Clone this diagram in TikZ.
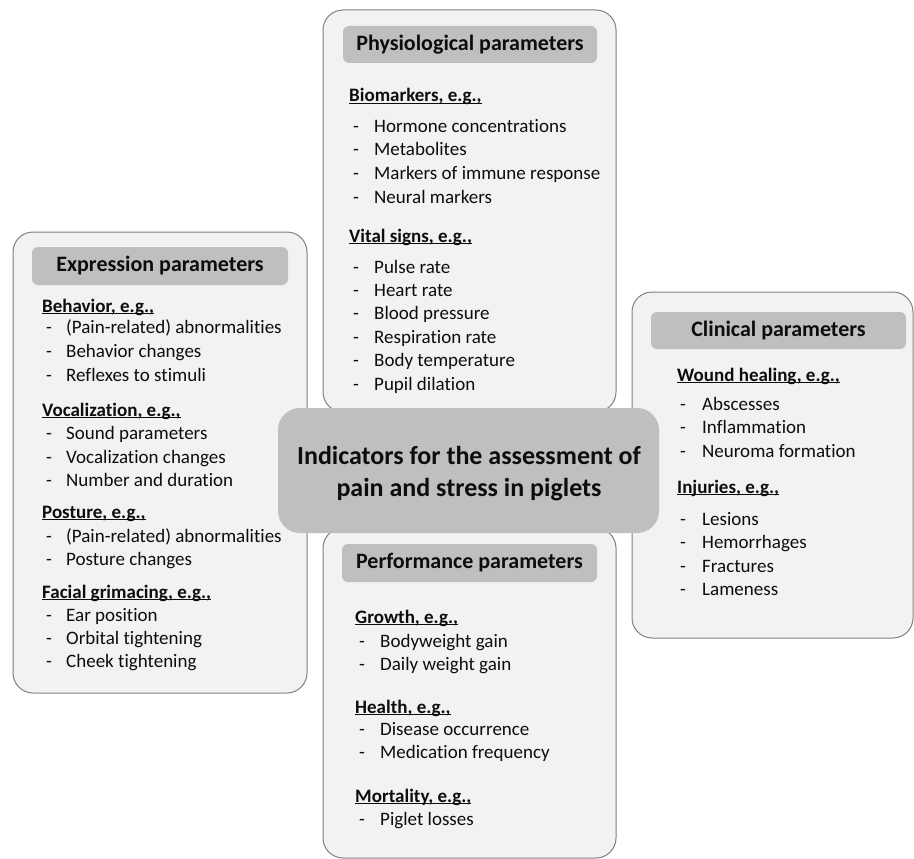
\documentclass[tikz,border=0pt]{standalone}
\usepackage{fontspec}
\setmainfont[Ligatures=NoCommon]{Carlito}
\definecolor{panelfill}{HTML}{F2F2F2}
\definecolor{paneledge}{HTML}{808080}
\definecolor{headfill}{HTML}{BFBFBF}
\definecolor{ink}{HTML}{0D0D0D}
\newcommand\ulhead[1]{\setbox0\hbox{#1}\rlap{\rule[-2.4pt]{\wd0}{1.1pt}}\box0}

\begin{document}
\begin{tikzpicture}[ x=1pt, y=-1pt, panel/.style={ draw=paneledge,
          fill=panelfill, line width=1pt, rounded corners=20pt, inner sep=0pt },
        head/.style={ fill=headfill, rounded corners=6pt, inner sep=0pt,
          minimum width=255pt, minimum height=37pt, text=ink,
          font=\fontsize{22}{26}\selectfont\bfseries },
        topic/.style={ anchor=base west, inner sep=0pt, text=ink,
          font=\fontsize{19}{23}\selectfont\bfseries },
        item/.style={ anchor=base west, inner sep=0pt, text=ink,
          font=\fontsize{19}{23}\selectfont },
        core/.style={ fill=headfill, rounded corners=22pt, inner sep=0pt },
        coretext/.style={ inner sep=0pt, align=center, text=ink,
          font=\fontsize{26}{32.5}\selectfont\bfseries } ]
        \useasboundingbox (0,0) rectangle (914,859);

        \node[panel,minimum width=293pt,minimum height=402pt] (phys) at (469.5,211) {};
        \node[panel,minimum width=293pt,minimum height=330pt] (perf) at (469.5,693) {};
        \node[panel,minimum width=294pt,minimum height=461pt] (expr) at (160,462.5) {};
        \node[panel,minimum width=281pt,minimum height=346pt] (clin) at (772.5,465) {};

        \node[head,minimum width=254pt] (physhead) at (470,44.5) {Physiological parameters};
        \node[head,minimum height=38pt] (perfhead) at (469.5,563) {Performance parameters};
        \node[head,minimum width=256pt,minimum height=38pt] (exprhead) at (160,266) {Expression parameters};
        \node[head] (clinhead) at (778.5,330.5) {Clinical parameters};

        \foreach \y/\t in {102/{Biomarkers, e.g.,},242/{Vital signs, e.g.,}}
        \node[topic] (pt\y) at (349,\y) {\ulhead{\t}};
        \foreach \y/\t in {132/Hormone concentrations,155/Metabolites,
          179/Markers of immune response,203/Neural markers,273/Pulse rate,
          296/Heart rate,319/Blood pressure,343/Respiration rate,
          366/Body temperature,390/Pupil dilation}
        \node[item] (p\y) at (353,\y) {\makebox[21pt][l]{-}\t};

        \foreach \y/\t in {312/{Behavior, e.g.,},416/{Vocalization, e.g.,},
          518/{Posture, e.g.,},598/{Facial grimacing, e.g.,}}
        \node[topic] (et\y) at (42,\y) {\ulhead{\t}};
        \foreach \y/\t in {333/{(Pain-related) abnormalities},357/Behavior changes,
          381/Reflexes to stimuli,439/Sound parameters,463/Vocalization changes,
          486/Number and duration,542/{(Pain-related) abnormalities},
          565/Posture changes,621/Ear position,644/Orbital tightening,
          667/Cheek tightening}
        \node[item] (e\y) at (46,\y) {\makebox[20pt][l]{-}\t};

        \foreach \y/\t in {381/{Wound healing, e.g.,},493/{Injuries, e.g.,}}
        \node[topic] (ct\y) at (677,\y) {\ulhead{\t}};
        \foreach \y/\t in {410/Abscesses,433/Inflammation,457/Neuroma formation,
          525/Lesions,548/Hemorrhages,572/Fractures,595/Lameness}
        \node[item] (c\y) at (680,\y) {\makebox[22pt][l]{-}\t};

        \foreach \y/\t in {623/{Growth, e.g.,},713/{Health, e.g.,},802/{Mortality, e.g.,}}
        \node[topic] (gt\y) at (355,\y) {\ulhead{\t}};
        \foreach \y/\t in {647/Bodyweight gain,670/Daily weight gain,
          735/Disease occurrence,758/Medication frequency,825/Piglet losses}
        \node[item] (g\y) at (359,\y) {\makebox[21pt][l]{-}\t};

        \node[core,minimum width=381pt,minimum height=125pt] (aim) at (468.5,470.5) {};
        \node[coretext] (aimtext) at (469,473.5)
        {Indicators for the assessment of\\pain and stress in piglets};
      \end{tikzpicture}
\end{document}
